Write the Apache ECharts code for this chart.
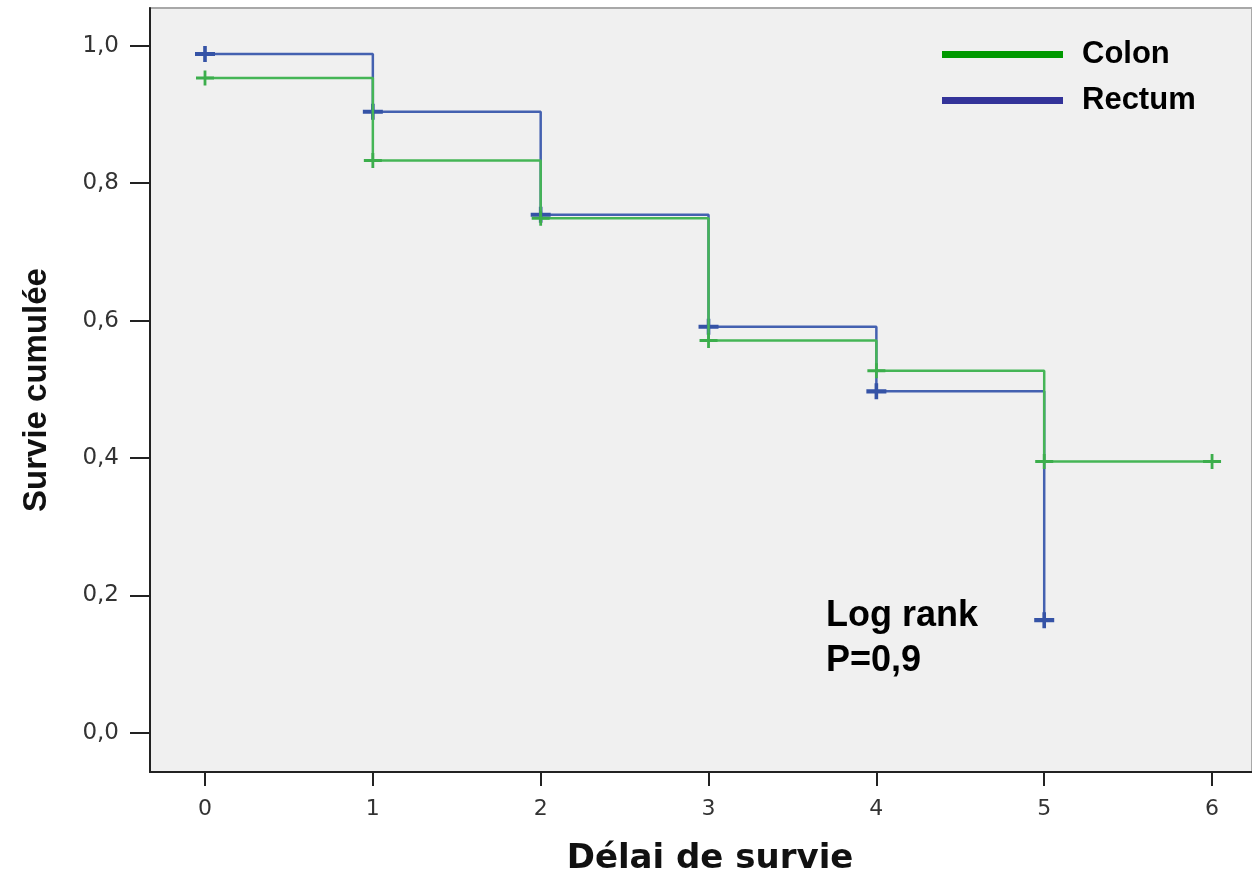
<!DOCTYPE html>
<html>
<head>
<meta charset="utf-8">
<script src="https://cdn.jsdelivr.net/npm/echarts@6/dist/echarts.min.js"></script>
<style>
html,body{margin:0;padding:0;background:#fff;}
#chart{width:1252px;height:873px;}
</style>
</head>
<body>
<div id="chart"></div>
<script>
// ---- data ----
var colonTimes = [0, 1, 2, 3, 4, 5, 6];
var colonSurvival = [0.953, 0.833, 0.749, 0.571, 0.527, 0.395, 0.395];
var rectumTimes = [0, 1, 2, 3, 4, 5];
var rectumSurvival = [0.988, 0.904, 0.754, 0.591, 0.497, 0.164];
var xTicks = [0, 1, 2, 3, 4, 5, 6];
var yTicks = [0, 0.2, 0.4, 0.6, 0.8, 1.0];
var seriesNames = ['Colon', 'Rectum'];
var annotationLines = ['Log rank', 'P=0,9'];
var xTitle = 'Délai de survie';
var yTitle = 'Survie cumulée';

function pairs(xs, ys) { return xs.map(function (x, i) { return [x, ys[i]]; }); }

var plusBlue = 'path://M0,5.2H8.2V0H11.8V5.2H20V8.8H11.8V14H8.2V8.8H0Z';
var plusGreen = 'path://M0,5.6H7.6V0H10.4V5.6H18V8.4H10.4V14H7.6V8.4H0Z';

var chart = echarts.init(document.getElementById('chart'), null, {renderer: 'canvas'});
chart.setOption({
  animation: false,
  backgroundColor: '#ffffff',
  grid: {
    left: 150, top: 8, right: 0, bottom: 101,
    outerBoundsMode: 'none',
    containLabel: false,
    show: true, backgroundColor: '#f0f0f0',
    borderColor: '#a8a8a8', borderWidth: 2
  },
  legend: {
    orient: 'vertical',
    left: 937, top: 34,
    icon: 'rect',
    itemWidth: 121, itemHeight: 7,
    itemGap: 15,
    textStyle: {fontFamily: 'Liberation Sans, Arial', fontWeight: 'bold', fontSize: 31, color: '#000', padding: [4, 0, 0, 14]},
    data: [
      {name: seriesNames[0], itemStyle: {color: '#009900'}},
      {name: seriesNames[1], itemStyle: {color: '#333399'}}
    ]
  },
  xAxis: {
    type: 'value',
    min: -0.3277, max: 6.238,
    name: xTitle,
    nameLocation: 'middle',
    nameGap: 70,
    nameTextStyle: {fontFamily: 'DejaVu Sans', fontWeight: 'bold', fontSize: 34, color: '#111', padding: [0, 0, 0, 18]},
    axisLine: {show: true, onZero: false, lineStyle: {color: '#222', width: 2}},
    axisTick: {show: true, length: 14, lineStyle: {color: '#222', width: 2}, customValues: xTicks},
    axisLabel: {fontFamily: 'DejaVu Sans', fontSize: 22, color: '#333', margin: 26, customValues: xTicks,
      formatter: function (v) { return String(Math.round(v)); }},
    splitLine: {show: false}
  },
  yAxis: {
    type: 'value',
    min: -0.057, max: 1.055,
    name: yTitle,
    nameLocation: 'middle',
    nameGap: 97,
    nameRotate: 90,
    nameTextStyle: {fontFamily: 'Liberation Sans, Arial', fontWeight: 'bold', fontSize: 33, color: '#111'},
    axisLine: {show: true, onZero: false, lineStyle: {color: '#222', width: 2}},
    axisTick: {show: true, length: 20, lineStyle: {color: '#222', width: 2}, customValues: yTicks},
    axisLabel: {fontFamily: 'DejaVu Sans', fontSize: 23, color: '#333', margin: 31, customValues: yTicks,
      formatter: function (v) { return v.toFixed(1).replace('.', ','); }},
    splitLine: {show: false}
  },
  series: [
    {
      name: seriesNames[1],
      type: 'line',
      step: 'end',
      data: pairs(rectumTimes, rectumSurvival),
      symbol: plusBlue,
      symbolSize: [20, 16],
      symbolKeepAspect: false,
      showAllSymbol: true,
      color: '#333399',
      lineStyle: {color: '#4461b0', width: 2.5},
      itemStyle: {color: '#3553a6'},
      z: 2
    },
    {
      name: seriesNames[0],
      type: 'line',
      step: 'end',
      data: pairs(colonTimes, colonSurvival),
      symbol: plusGreen,
      symbolSize: [18, 15],
      symbolKeepAspect: false,
      showAllSymbol: true,
      color: '#009900',
      lineStyle: {color: '#45b556', width: 2.5},
      itemStyle: {color: '#3cae4c'},
      z: 3
    }
  ],
  graphic: [
    {
      type: 'text', left: 826, top: 594,
      style: {text: annotationLines.join('\n'), fontFamily: 'Liberation Sans, Arial', fontWeight: 'bold', fontSize: 36, lineHeight: 45, fill: '#000'}
    }
  ]
});
</script>
</body>
</html>
